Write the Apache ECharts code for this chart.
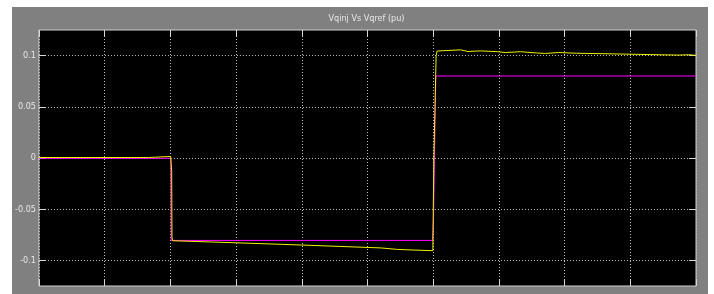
<!DOCTYPE html>
<html>
<head>
<meta charset="utf-8">
<script src="https://cdn.jsdelivr.net/npm/echarts@6/dist/echarts.min.js"></script>
<style>
  html, body { margin: 0; padding: 0; background: #ffffff; }
  #scope { position: absolute; left: 12px; top: 7px; width: 696px; height: 287px; background: #808080; }
</style>
</head>
<body>
<div id="scope"></div>
<script>
// Vqref (magenta) and Vqinj (yellow), time in scope divisions (0..10)
const yTicks = [-0.1, -0.05, 0, 0.05, 0.1];

const vqrefT = [0, 2.005, 2.012, 5.99, 6.005, 6.04, 10];
const vqrefV = [-0.0003, -0.0003, -0.0805, -0.0805, -0.06, 0.0801, 0.0801];

const vqinjT = [0, 1.67, 1.675, 2.005, 2.02, 2.025, 2.035, 3.0, 4.0, 5.2, 5.46, 5.89, 5.995,
  6.01, 6.045, 6.06, 6.07, 6.42, 6.43, 6.53, 6.72, 6.98, 7.10, 7.33, 7.57, 7.71, 7.91, 8.18,
  8.80, 9.45, 9.74, 9.88, 10];
const vqinjV = [0.0005, 0.0005, 0.0015, 0.0015, -0.013, -0.078, -0.0808, -0.0828, -0.0850, -0.0878,
  -0.0893, -0.0903, -0.0905, 0.0, 0.1, 0.1045, 0.1056, 0.1056, 0.1046, 0.1040, 0.1046, 0.1038,
  0.1030, 0.1038, 0.1026, 0.1021, 0.1030, 0.1023, 0.1016, 0.1008, 0.1005, 0.1008, 0.1003];

const font = "'DejaVu Sans Condensed', 'Liberation Sans Narrow', 'Liberation Sans', sans-serif";
const tickColor = '#d8d8d8';
const gridDots = { color: '#bdbdbd', width: 1, type: [1, 2] };

const chart = echarts.init(document.getElementById('scope'), null, { renderer: 'canvas' });

const pair = (t, v) => t.map((x, i) => [x, v[i]]);

const option = {
  animation: false,
  backgroundColor: 'transparent',
  graphic: [{
    type: 'text',
    x: 354.5,
    y: 12,
    style: {
      text: 'Vqinj Vs Vqref (pu)',
      fill: '#e8e8e8',
      font: '9px ' + font,
      textAlign: 'center',
      textVerticalAlign: 'middle'
    }
  }],
  grid: {
    left: 25, top: 23, width: 659, height: 256,
    show: true, backgroundColor: '#000000',
    borderColor: '#d0d0d0', borderWidth: 1
  },
  xAxis: [
    {
      type: 'value', min: 0, max: 10, interval: 1, position: 'bottom',
      axisLine: { show: false, onZero: false },
      axisTick: { show: true, inside: true, length: 7, lineStyle: { color: tickColor } },
      axisLabel: { show: false },
      splitLine: { show: true, lineStyle: gridDots }
    },
    {
      type: 'value', min: 0, max: 10, interval: 1, position: 'top',
      axisLine: { show: false, onZero: false },
      axisTick: { show: true, inside: true, length: 7, lineStyle: { color: tickColor } },
      axisLabel: { show: false },
      splitLine: { show: false }
    }
  ],
  yAxis: [
    {
      type: 'value', min: -0.125, max: 0.125, position: 'left',
      axisLine: { show: false, onZero: false },
      axisTick: { show: true, inside: true, length: 7, customValues: yTicks, lineStyle: { color: tickColor } },
      axisLabel: {
        show: true, customValues: yTicks, margin: 3, color: '#e6e6e6',
        fontSize: 9, fontFamily: font,
        formatter: v => String(Math.round(v * 100) / 100)
      },
      splitLine: { show: true, lineStyle: gridDots }
    },
    {
      type: 'value', min: -0.125, max: 0.125, position: 'right',
      axisLine: { show: false, onZero: false },
      axisTick: { show: true, inside: true, length: 7, customValues: yTicks, lineStyle: { color: tickColor } },
      axisLabel: { show: false },
      splitLine: { show: false }
    }
  ],
  series: [
    {
      name: 'Vqref', type: 'line', xAxisIndex: 0, yAxisIndex: 0,
      data: pair(vqrefT, vqrefV), showSymbol: false, symbol: 'none',
      lineStyle: { color: '#ff00ff', width: 1 }, z: 2
    },
    {
      name: 'Vqinj', type: 'line', xAxisIndex: 0, yAxisIndex: 0,
      data: pair(vqinjT, vqinjV), showSymbol: false, symbol: 'none',
      lineStyle: { color: '#f0f000', width: 1 }, z: 3
    }
  ]
};

chart.setOption(option);
</script>
</body>
</html>
